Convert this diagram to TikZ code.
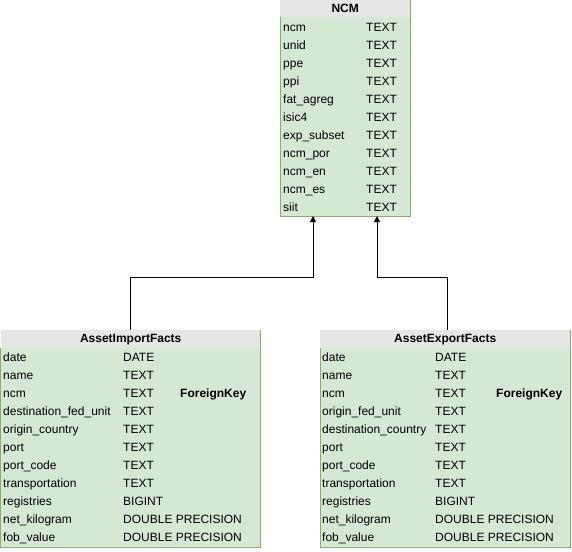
\documentclass[tikz,border=0pt]{standalone}
\usepackage{fontspec}
\setmainfont{Liberation Sans}
\usetikzlibrary{arrows.meta,positioning}
\definecolor{rowgreen}{HTML}{D5E8D4}
\definecolor{edgegreen}{HTML}{82B366}
\definecolor{headgray}{HTML}{E6E6E6}

\begin{document}
\begin{tikzpicture}[
 x=1pt,y=-1pt,
 font=\fontsize{12}{14}\selectfont,
 thead/.style={fill=headgray,anchor=north west,inner sep=0pt,font=\fontsize{12}{14}\selectfont\bfseries},
 tbody/.style={fill=rowgreen,anchor=north west,inner sep=0pt},
 edge/.style={draw=edgegreen,line width=1pt},
 cell/.style={anchor=west,inner sep=0pt,text height=9pt,text depth=1pt},
 fk/.style={-{Triangle[length=6pt,width=6pt]},line width=1pt,black}
]
\useasboundingbox (0,0) rectangle (572,551);

% NCM
\node[thead,minimum width=130pt,minimum height=17pt] (ncm) at (280,0) {NCM};
\node[tbody,minimum width=130pt,minimum height=199pt] (ncmbody) at (280,17) {};
\draw[edge] (ncm.north east) -- (ncmbody.south east) -- (ncmbody.south west) -- (ncmbody.north west);
\foreach \name [count=\i] in {ncm,unid,ppe,ppi,fat\_agreg,isic4,exp\_subset,ncm\_por,ncm\_en,ncm\_es,siit} {
  \node[cell] (ncm-n\i) at (283,9.5+18*\i) {\name};
  \node[cell] (ncm-t\i) at (366,9.5+18*\i) {TEXT};
}

% AssetImportFacts
\node[thead,minimum width=260pt,minimum height=18pt] (imp) at (0.5,330) {AssetImportFacts};
\node[tbody,minimum width=260pt,minimum height=199pt] (impbody) at (0.5,348) {};
\draw[edge] (imp.north east) -- (impbody.south east) -- (impbody.south west) -- (impbody.north west);
\foreach \name/\type [count=\i] in {date/DATE,name/TEXT,ncm/TEXT,destination\_fed\_unit/TEXT,origin\_country/TEXT,port/TEXT,port\_code/TEXT,transportation/TEXT,registries/BIGINT,net\_kilogram/DOUBLE PRECISION,fob\_value/DOUBLE PRECISION} {
  \node[cell] (imp-n\i) at (3,339+18*\i) {\name};
  \node[cell] (imp-t\i) at (123,339+18*\i) {\type};
}
\node[cell,font=\fontsize{12}{14}\selectfont\bfseries] (imp-fk) at (180,393) {ForeignKey};

% AssetExportFacts
\node[thead,minimum width=250pt,minimum height=18pt] (exp) at (320,330) {AssetExportFacts};
\node[tbody,minimum width=250pt,minimum height=199pt] (expbody) at (320,348) {};
\draw[edge] (exp.north east) -- (expbody.south east) -- (expbody.south west) -- (expbody.north west);
\foreach \name/\type [count=\i] in {date/DATE,name/TEXT,ncm/TEXT,origin\_fed\_unit/TEXT,destination\_country/TEXT,port/TEXT,port\_code/TEXT,transportation/TEXT,registries/BIGINT,net\_kilogram/DOUBLE PRECISION,fob\_value/DOUBLE PRECISION} {
  \node[cell] (exp-n\i) at (322,339+18*\i) {\name};
  \node[cell] (exp-t\i) at (435,339+18*\i) {\type};
}
\node[cell,font=\fontsize{12}{14}\selectfont\bfseries] (exp-fk) at (496,393) {ForeignKey};

% references
\coordinate (in1) at (313,216);
\coordinate (in2) at (377,216);
\coordinate (out2) at (447,330);
\draw[fk] (imp.north) -- ++(0,-53) -| (in1);
\draw[fk] (out2) -- ++(0,-53) -| (in2);
\end{tikzpicture}
\end{document}
